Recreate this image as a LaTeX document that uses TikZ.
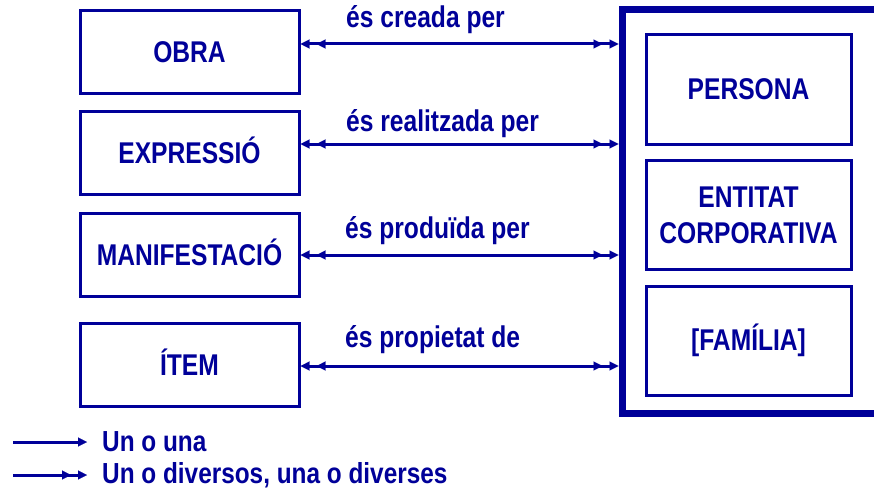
\documentclass[tikz,border=0pt]{standalone}
\usepackage{fontspec}
\setmainfont{Liberation Sans}[FakeStretch=0.82]
\newfontfamily\legfont{Liberation Sans}[FakeStretch=0.84]
\usetikzlibrary{arrows.meta}
\definecolor{fbblue}{RGB}{0,0,153}
\tikzset{
  tri/.tip={Triangle[length=9pt,width=9pt,line width=0.1pt]},
  dbl/.tip={Triangle[length=9pt,width=9pt,line width=0.1pt,sep=7pt]Triangle[length=9pt,width=9pt,line width=0.1pt]},
}
\begin{document}
\begin{tikzpicture}[x=1pt,y=-1pt,
  txt/.style={text=fbblue, font=\bfseries\fontsize{30}{36}\selectfont},
  lbox/.style={txt, draw=fbblue, line width=3pt, minimum width=219pt, minimum height=83pt, inner sep=0pt, text height=21pt, text depth=0pt},
  rbox/.style={txt, draw=fbblue, line width=3pt, minimum width=205pt, minimum height=109pt, inner sep=0pt, align=center},
  bigbox/.style={draw=fbblue, line width=7pt, minimum width=400pt, minimum height=403pt, inner sep=0pt},
  lbl/.style={txt, anchor=base west, inner sep=0pt},
  leg/.style={text=fbblue, font=\legfont\bfseries\fontsize{29}{34}\selectfont, anchor=base west, inner sep=0pt},
  rel/.style={draw=fbblue, line width=3pt, dbl-dbl},
  one/.style={draw=fbblue, line width=3pt, -tri},
  many/.style={draw=fbblue, line width=3pt, -dbl},
]
\clip (0,0) rectangle (874,492);
\fill[white] (0,0) rectangle (874,492);

\node[lbox] (obra)  at (189.5,52)  {OBRA};
\node[lbox] (expr)  at (189.5,153) {EXPRESSIÓ};
\node[lbox] (manif) at (189.5,255) {MANIFESTACIÓ};
\node[lbox] (item)  at (189.5,365) {ÍTEM};

\node[bigbox] (big) at (822,211.5) {};
\node[rbox] (pers) at (748.5,89.5)  {PERSONA};
\node[rbox] (ent)  at (748.5,215)   {ENTITAT\\CORPORATIVA};
\node[rbox] (fam)  at (748.5,340.5) {[FAMÍLIA]};

\draw[rel] ([yshift=8pt]obra.east) -- ([yshift=8pt]obra.east -| big.west);
\draw[rel] ([yshift=9pt]expr.east) -- ([yshift=9pt]expr.east -| big.west);
\draw[rel] (manif.east) -- (manif.east -| big.west);
\draw[rel] ([yshift=-1pt]item.east) -- ([yshift=-1pt]item.east -| big.west);

\node[lbl] (l1) at (346,28)  {és creada per};
\node[lbl] (l2) at (346,131) {és realitzada per};
\node[lbl] (l3) at (345,238) {és produïda per};
\node[lbl] (l4) at (345,347) {és propietat de};

\coordinate (g1s) at (13,442);
\coordinate (g1e) at (87,442);
\coordinate (g2s) at (13,475);
\coordinate (g2e) at (87,475);
\draw[one] (g1s) -- (g1e);
\draw[many] (g2s) -- (g2e);
\node[leg] (leg1) at (102,451) {Un o una};
\node[leg] (leg2) at (102,483) {Un o diversos, una o diverses};
\end{tikzpicture}
\end{document}
